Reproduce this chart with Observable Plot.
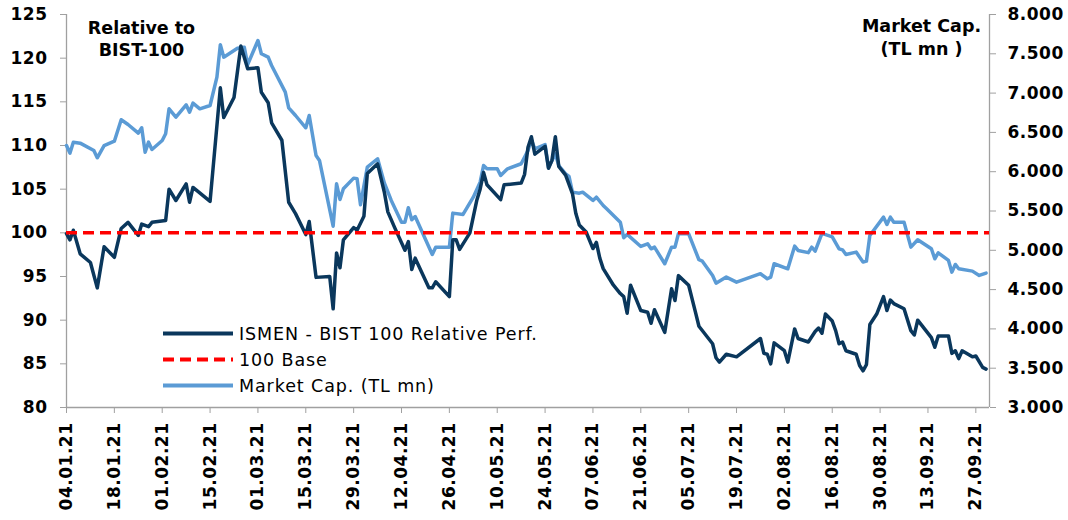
<!DOCTYPE html>
<html>
<head>
<meta charset="utf-8">
<script src="https://cdn.jsdelivr.net/npm/d3@7"></script>
<script src="https://cdn.jsdelivr.net/npm/@observablehq/plot@0.6"></script>
<style>
  body { margin: 0; background: #fff; }
  svg { display: block; }
</style>
</head>
<body>
<div id="chart"></div>
<script>
// ---------- DATA ----------
const perfDates = [
  "2021-01-04","2021-01-05","2021-01-06","2021-01-08","2021-01-11","2021-01-13","2021-01-15","2021-01-18","2021-01-20","2021-01-22",
  "2021-01-25","2021-01-26","2021-01-28","2021-01-29","2021-02-02","2021-02-03","2021-02-05","2021-02-08","2021-02-09","2021-02-10",
  "2021-02-15","2021-02-18","2021-02-19","2021-02-22","2021-02-24","2021-02-26","2021-03-01","2021-03-02","2021-03-04","2021-03-05",
  "2021-03-08","2021-03-10","2021-03-12","2021-03-15","2021-03-16","2021-03-18","2021-03-22","2021-03-23","2021-03-24","2021-03-25",
  "2021-03-26","2021-03-29","2021-03-30","2021-04-01","2021-04-02","2021-04-05","2021-04-07","2021-04-08","2021-04-10","2021-04-13",
  "2021-04-14","2021-04-15","2021-04-16","2021-04-20","2021-04-21","2021-04-22","2021-04-26","2021-04-27","2021-04-28","2021-04-29",
  "2021-05-02","2021-05-04","2021-05-05","2021-05-06","2021-05-07","2021-05-11","2021-05-12","2021-05-17","2021-05-18","2021-05-19",
  "2021-05-20","2021-05-21","2021-05-24","2021-05-25","2021-05-26","2021-05-27","2021-05-28","2021-05-30","2021-06-01","2021-06-02",
  "2021-06-03","2021-06-05","2021-06-07","2021-06-08","2021-06-09","2021-06-10","2021-06-13","2021-06-15","2021-06-16","2021-06-17",
  "2021-06-18","2021-06-21","2021-06-23","2021-06-24","2021-06-25","2021-06-28","2021-06-30","2021-07-01","2021-07-02","2021-07-05",
  "2021-07-07","2021-07-08","2021-07-12","2021-07-13","2021-07-14","2021-07-16","2021-07-19","2021-07-26","2021-07-27","2021-07-28",
  "2021-07-29","2021-07-30","2021-08-02","2021-08-03","2021-08-05","2021-08-06","2021-08-09","2021-08-11","2021-08-12","2021-08-13",
  "2021-08-14","2021-08-16","2021-08-17","2021-08-18","2021-08-19","2021-08-20","2021-08-23","2021-08-24","2021-08-25","2021-08-26",
  "2021-08-27","2021-08-29","2021-08-31","2021-09-01","2021-09-02","2021-09-03","2021-09-06","2021-09-08","2021-09-09","2021-09-10",
  "2021-09-12","2021-09-14","2021-09-15","2021-09-16","2021-09-19","2021-09-20","2021-09-21","2021-09-22","2021-09-23","2021-09-26",
  "2021-09-27","2021-09-29","2021-09-30"
];
const perfValues = [
  99.9, 99.2, 100.3, 97.6, 96.6, 93.7, 98.4, 97.2, 100.5, 101.2,
  99.7, 101.0, 100.7, 101.2, 101.4, 105.0, 103.7, 105.6, 103.5, 105.2,
  103.6, 116.6, 113.2, 115.5, 121.4, 118.8, 118.9, 116.1, 114.9, 112.6,
  110.6, 103.5, 102.2, 99.8, 101.3, 94.9, 95.0, 91.3, 97.7, 96.0,
  99.2, 100.6, 100.3, 101.9, 106.8, 107.9, 104.6, 102.4, 100.6, 98.0,
  99.0, 95.8, 97.1, 93.7, 93.7, 94.4, 92.7, 99.2, 99.2, 98.1,
  100.0, 103.7, 105.0, 106.9, 105.5, 103.8, 105.5, 105.7, 106.7, 109.8,
  111.0, 109.0, 109.9, 107.4, 108.3, 111.0, 107.6, 106.6, 104.5, 102.2,
  100.9, 100.1, 98.2, 98.9, 97.1, 95.9, 94.0, 93.05, 92.7, 90.8,
  94.0, 91.1, 90.9, 89.65, 91.2, 88.6, 93.6, 92.25, 95.1, 94.0,
  90.9, 89.3, 87.3, 85.7, 85.2, 86.1, 85.8, 87.9, 86.2, 86.1,
  85.0, 87.4, 86.5, 85.2, 89.0, 87.9, 87.5, 88.7, 89.1, 88.5,
  90.7, 89.9, 88.8, 87.3, 87.5, 86.5, 86.1, 84.8, 84.2, 84.9,
  89.5, 90.7, 92.7, 91.1, 92.3, 91.9, 91.3, 88.8, 88.3, 90.0,
  89.0, 88.0, 86.9, 88.2, 88.2, 86.2, 86.5, 85.6, 86.5, 85.8,
  85.9, 84.6, 84.4
];
const capDates = [
  "2021-01-04","2021-01-05","2021-01-06","2021-01-08","2021-01-12","2021-01-13","2021-01-15","2021-01-18","2021-01-20","2021-01-22",
  "2021-01-25","2021-01-26","2021-01-27","2021-01-28","2021-01-29","2021-02-01","2021-02-02","2021-02-03","2021-02-05","2021-02-08",
  "2021-02-09","2021-02-10","2021-02-12","2021-02-15","2021-02-17","2021-02-18","2021-02-19","2021-02-23","2021-02-25","2021-02-26",
  "2021-03-01","2021-03-02","2021-03-04","2021-03-05","2021-03-09","2021-03-10","2021-03-12","2021-03-15","2021-03-16","2021-03-18",
  "2021-03-19","2021-03-23","2021-03-24","2021-03-25","2021-03-26","2021-03-29","2021-03-30","2021-03-31","2021-04-02","2021-04-05",
  "2021-04-07","2021-04-09","2021-04-12","2021-04-13","2021-04-14","2021-04-15","2021-04-16","2021-04-21","2021-04-22","2021-04-26",
  "2021-04-27","2021-04-30","2021-05-03","2021-05-05","2021-05-06","2021-05-07","2021-05-10","2021-05-11","2021-05-13","2021-05-17",
  "2021-05-19","2021-05-20","2021-05-21","2021-05-24","2021-05-25","2021-05-27","2021-05-28","2021-05-30","2021-05-31","2021-06-01",
  "2021-06-03","2021-06-04","2021-06-07","2021-06-08","2021-06-10","2021-06-11","2021-06-15","2021-06-16","2021-06-17","2021-06-21",
  "2021-06-23","2021-06-24","2021-06-25","2021-06-28","2021-06-30","2021-07-01","2021-07-02","2021-07-05","2021-07-08","2021-07-09",
  "2021-07-12","2021-07-13","2021-07-16","2021-07-19","2021-07-26","2021-07-28","2021-07-29","2021-07-30","2021-08-03","2021-08-05",
  "2021-08-06","2021-08-09","2021-08-10","2021-08-11","2021-08-13","2021-08-16","2021-08-18","2021-08-19","2021-08-20","2021-08-23",
  "2021-08-25","2021-08-26","2021-08-27","2021-08-31","2021-09-01","2021-09-02","2021-09-03","2021-09-06","2021-09-08","2021-09-10",
  "2021-09-14","2021-09-15","2021-09-16","2021-09-19","2021-09-20","2021-09-21","2021-09-22","2021-09-26","2021-09-28","2021-09-30"
];
const capValues = [
  6333, 6236, 6376, 6363, 6270, 6177, 6333, 6388, 6661, 6601,
  6490, 6559, 6248, 6376, 6283, 6397, 6482, 6800, 6694, 6851,
  6757, 6872, 6800, 6842, 7203, 7615, 7457, 7571, 7584, 7364,
  7669, 7500, 7457, 7351, 7012, 6813, 6715, 6559, 6715, 6206,
  6143, 5307, 5846, 5647, 5783, 5918, 5910, 5579, 6058, 6165,
  5854, 5634, 5358, 5358, 5541, 5388, 5430, 4947, 5040, 5040,
  5473, 5456, 5676, 5867, 6079, 6037, 6037, 5952, 6037, 6101,
  6270, 6406, 6291, 6346, 6050, 6228, 6079, 5973, 5940, 5740,
  5727, 5740, 5634, 5676, 5570, 5528, 5358, 5160, 5202, 5049,
  5083, 5019, 5040, 4829, 5040, 5040, 5210, 5210, 4880, 4862,
  4680, 4582, 4659, 4595, 4702, 4638, 4659, 4829, 4765, 5053,
  4998, 4970, 5040, 4989, 5215, 5170, 5019, 5006, 4947, 4977,
  4850, 4862, 5189, 5422, 5329, 5422, 5358, 5358, 5040, 5134,
  5019, 4892, 4968, 4871, 4722, 4820, 4765, 4735, 4680, 4710
];
const baseValue = 100;

const xTicks = [
  "2021-01-04","2021-01-18","2021-02-01","2021-02-15","2021-03-01","2021-03-15","2021-03-29","2021-04-12","2021-04-26","2021-05-10",
  "2021-05-24","2021-06-07","2021-06-21","2021-07-05","2021-07-19","2021-08-02","2021-08-16","2021-08-30","2021-09-13","2021-09-27"
];
const xDomain = ["2021-01-04", "2021-10-01"];
const leftTicks = [80, 85, 90, 95, 100, 105, 110, 115, 120, 125];
const leftDomain = [80, 125];
const rightTicks = [3000, 3500, 4000, 4500, 5000, 5500, 6000, 6500, 7000, 7500, 8000];
const rightDomain = [3000, 8000];

const seriesNames = ["ISMEN - BIST 100 Relative Perf.", "100 Base", "Market Cap. (TL mn)"];
const leftTitle = "Relative to\nBIST-100";
const rightTitle = "Market Cap.\n(TL mn )";

// ---------- STYLE ----------
const darkBlue = "#0a375c";
const lightBlue = "#5b9bd5";
const red = "#ff0000";
const axisGray = "#a0a0a0";
const font = "'DejaVu Sans', Verdana, sans-serif";

// ---------- BUILD ----------
const parse = d3.utcParse("%Y-%m-%d");
const toLeft = m => leftDomain[0] + (m - rightDomain[0]) / (rightDomain[1] - rightDomain[0]) * (leftDomain[1] - leftDomain[0]);
const fromLeft = v => rightDomain[0] + (v - leftDomain[0]) / (leftDomain[1] - leftDomain[0]) * (rightDomain[1] - rightDomain[0]);
const fmtTR = d3.formatLocale({decimal: ",", thousands: ".", grouping: [3], currency: ["", ""]}).format(",");

const perf = perfDates.map((d, i) => ({date: parse(d), value: perfValues[i]}));
const cap = capDates.map((d, i) => ({date: parse(d), value: toLeft(capValues[i])}));
const xDom = xDomain.map(parse);

const chart = Plot.plot({
  width: 1068,
  height: 520,
  marginLeft: 66,
  marginRight: 79,
  marginTop: 14,
  marginBottom: 113,
  style: {fontFamily: font, background: "#fff", color: "#000", overflow: "visible"},
  x: {type: "utc", domain: xDom},
  y: {domain: leftDomain},
  marks: [
    // axis lines
    Plot.ruleX(xDom, {stroke: axisGray, strokeWidth: 1.3}),
    Plot.ruleY([leftDomain[0]], {stroke: axisGray, strokeWidth: 1.3}),
    // axes
    Plot.axisY(leftTicks, {anchor: "left", label: null, tickSize: 6, tickPadding: 13, stroke: axisGray, fill: "#000",
      fontSize: 17, fontWeight: "bold"}),
    Plot.axisY(rightTicks.map(toLeft), {anchor: "right", label: null, tickSize: 6, tickPadding: 12, stroke: axisGray, fill: "#000",
      fontSize: 17, fontWeight: "bold", tickFormat: v => fmtTR(Math.round(fromLeft(v)))}),
    Plot.axisX(xTicks.map(parse), {anchor: "bottom", label: null, tickSize: 6, tickPadding: 9, tickRotate: -90,
      stroke: axisGray, fill: "#000", fontSize: 17, fontWeight: "bold", tickFormat: d3.utcFormat("%d.%m.%y")}),
    // series
    Plot.lineY(cap, {x: "date", y: "value", stroke: lightBlue, strokeWidth: 3.5, strokeLinejoin: "round"}),
    Plot.lineY(perf, {x: "date", y: "value", stroke: darkBlue, strokeWidth: 3.5, strokeLinejoin: "round"}),
    Plot.ruleY([baseValue], {stroke: red, strokeWidth: 3.5, strokeDasharray: "11,6"}),
    // titles
    Plot.text([leftTitle], {frameAnchor: "top-left", dx: 75, dy: 3, textAnchor: "middle", lineAnchor: "top",
      lineHeight: 1.3, fontSize: 17.5, fontWeight: "bold", fill: "#000"}),
    Plot.text([rightTitle], {frameAnchor: "top-right", dx: -68, dy: 1.5, textAnchor: "middle", lineAnchor: "top",
      lineHeight: 1.3, fontSize: 17.5, fontWeight: "bold", fill: "#000"})
  ]
});

document.getElementById("chart").appendChild(chart);

const svg = d3.select(chart.tagName.toLowerCase() === "svg" ? chart : chart.querySelector("svg"));
svg.selectAll('g[aria-label$="tick label"]').style("letter-spacing", "0.5px");

// legend (inside plot area)
const legendStyles = [
  {stroke: darkBlue, dash: null},
  {stroke: red, dash: "11,6"},
  {stroke: lightBlue, dash: null}
];
const lg = svg.append("g").attr("font-family", font).attr("font-size", 17.5)
  .attr("text-anchor", "start").style("letter-spacing", "0.9px");
seriesNames.forEach((name, i) => {
  const y = 333.5 + i * 26;
  lg.append("line").attr("x1", 163).attr("x2", 233).attr("y1", y).attr("y2", y)
    .attr("stroke", legendStyles[i].stroke).attr("stroke-width", 4)
    .attr("stroke-dasharray", legendStyles[i].dash);
  lg.append("text").attr("x", 239).attr("y", y).attr("dy", "0.36em").attr("fill", "#000").text(name);
});
</script>
</body>
</html>
